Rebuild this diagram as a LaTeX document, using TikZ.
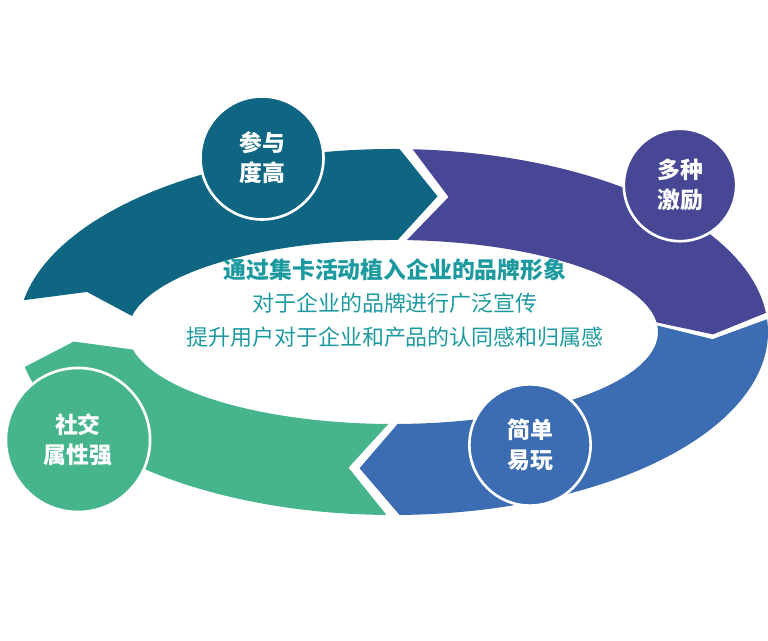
\documentclass[tikz,border=0pt]{standalone}
\usepackage{fontspec}
\setmainfont{Noto Sans CJK SC}
\usetikzlibrary{calc}
\definecolor{tealc}{HTML}{0E6683}
\definecolor{purplec}{HTML}{474796}
\definecolor{bluec}{HTML}{3C6CB2}
\definecolor{greenc}{HTML}{47B58B}
\definecolor{textc}{HTML}{1C9AA0}
\tikzset{
  badge/.style={circle,draw=white,line width=1.5pt,text=white,align=center,
    font=\fontsize{13}{17}\selectfont\bfseries,inner sep=0pt},
  lead/.style={text=textc,font=\fontsize{13}{16}\selectfont\bfseries},
  sub/.style={text=textc,font=\fontsize{12.5}{16}\selectfont}
}
\begin{document}
\begin{tikzpicture}[line cap=round,line join=round,x=0.02cm,y=0.02cm]
  \useasboundingbox (0,0) rectangle (768,641);
  \coordinate (ctr) at (393,309);
  % ring segments: start angle, end angle, colour
  \foreach \a/\b/\col in {170/89/tealc,87/6/purplec,4/-89/bluec,-91/-169/greenc}{
    \pgfmathsetmacro{\h}{\b-7}
    \pgfmathsetmacro{\n}{\a-7}
    \fill[\col] ($(ctr)+({375*cos(\a)},{183*sin(\a)})$)
      arc[start angle=\a,end angle=\b,x radius=375,y radius=183]
      -- ($(ctr)+({320*cos(\h)},{137*sin(\h)})$)
      -- ($(ctr)+({265*cos(\b)},{92*sin(\b)})$)
      arc[start angle=\b,end angle=\a,x radius=265,y radius=92]
      -- ($(ctr)+({320*cos(\n)},{137*sin(\n)})$) -- cycle;
  }
  \node[badge,fill=tealc,minimum size=70pt] (canyu) at (262,483) {参与\\度高};
  \node[badge,fill=purplec,minimum size=64pt] (jili) at (680,456) {多种\\激励};
  \node[badge,fill=bluec,minimum size=69pt] (jiandan) at (530,196) {简单\\易玩};
  \node[badge,fill=greenc,minimum size=82pt] (shejiao) at (78,201) {社交\\属性强};
  \node[lead] (line1) at (395,371) {通过集卡活动植入企业的品牌形象};
  \node[sub] (line2) at (395,338) {对于企业的品牌进行广泛宣传};
  \node[sub] (line3) at (395,304) {提升用户对于企业和产品的认同感和归属感};
\end{tikzpicture}
\end{document}
